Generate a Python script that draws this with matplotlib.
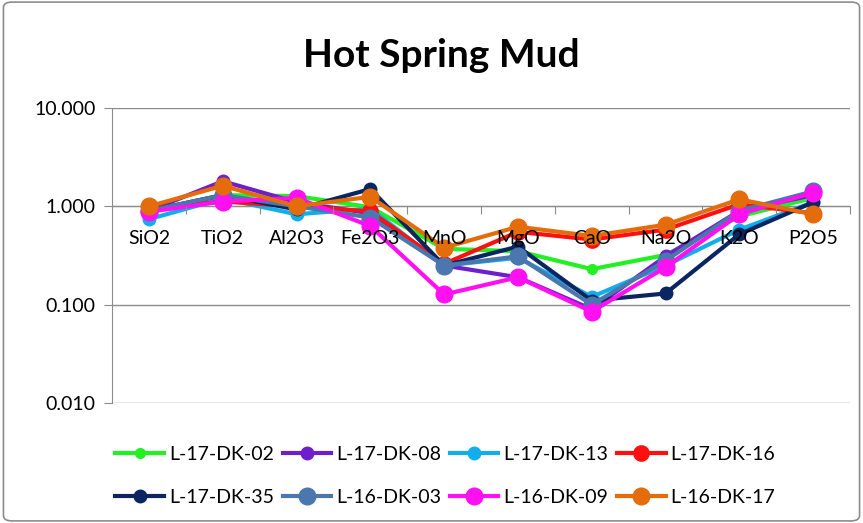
import matplotlib.pyplot as plt
from matplotlib.patches import FancyBboxPatch
from matplotlib.ticker import FixedLocator, NullLocator

plt.rcParams['font.family'] = ['Lato', 'DejaVu Sans']

oxides = ['SiO2', 'TiO2', 'Al2O3', 'Fe2O3', 'MnO', 'MgO', 'CaO', 'Na2O', 'K2O', 'P2O5']

samples = ['L-17-DK-02', 'L-17-DK-08', 'L-17-DK-13', 'L-17-DK-16',
           'L-17-DK-35', 'L-16-DK-03', 'L-16-DK-09', 'L-16-DK-17']

dk02 = [0.90, 1.30, 1.27, 0.98, 0.37, 0.35, 0.23, 0.32, 0.79, 1.22]
dk08 = [0.90, 1.80, 1.10, 0.85, 0.25, 0.19, 0.09, 0.31, 0.90, 1.30]
dk13 = [0.74, 1.20, 0.83, 0.95, 0.25, 0.30, 0.12, 0.25, 0.58, 1.10]
dk16 = [0.95, 1.12, 1.00, 0.89, 0.26, 0.55, 0.46, 0.58, 1.05, 0.85]
dk35 = [0.90, 1.30, 0.93, 1.50, 0.25, 0.39, 0.11, 0.13, 0.52, 1.10]
dk03 = [0.90, 1.30, 1.00, 0.77, 0.25, 0.31, 0.10, 0.28, 0.90, 1.42]
dk09 = [0.88, 1.12, 1.22, 0.63, 0.127, 0.19, 0.085, 0.24, 0.83, 1.38]
dk17 = [1.00, 1.62, 1.00, 1.25, 0.38, 0.62, 0.50, 0.65, 1.18, 0.83]

series = [dk02, dk08, dk13, dk16, dk35, dk03, dk09, dk17]
colors = ['#22F022', '#6E1FCB', '#12AEEA', '#FF1010', '#0A2560', '#4A78AE', '#FF10F0', '#E46C0A']
msizes = [7, 9, 9, 11, 9, 12, 12, 12]
yticks = [0.01, 0.1, 1, 10]

fig = plt.figure(figsize=(8.63, 5.23), dpi=100)
fig.patches.append(FancyBboxPatch((0.004, 0.004), 0.992, 0.992, boxstyle='round,pad=0,rounding_size=0.01',
                                  transform=fig.transFigure, fill=False, edgecolor='#8c8c8c', lw=1.2))
ax = fig.add_axes([0.1298, 0.2294, 0.8552, 0.5641])

x = list(range(len(oxides)))
handles = []
for name, vals, c, ms in zip(samples, series, colors, msizes):
    h, = ax.plot(x, vals, color=c, lw=3, marker='o', ms=ms, label=name, zorder=2)
    handles.append(h)

ax.set_yscale('log')
ax.set_ylim(0.01, 10)
ax.set_xlim(-0.5, len(oxides) - 0.5)
ax.yaxis.set_major_locator(FixedLocator(yticks))
ax.yaxis.set_minor_locator(NullLocator())
ax.set_yticklabels(['0.010', '0.100', '1.000', '10.000'])

# gridlines below the series, category labels above them
for t in yticks:
    ax.axhline(t, color='#8c8c8c', lw=1, zorder=0.5)
ax.xaxis.set_zorder(3)

ax.spines['top'].set_visible(False)
ax.spines['right'].set_visible(False)
ax.spines['left'].set_color('#8c8c8c')
ax.spines['bottom'].set_position(('data', 1))
ax.spines['bottom'].set_color('#8c8c8c')
for s in ax.spines.values():
    s.set_zorder(0.6)

ax.set_xticks([i + 0.5 for i in x])
ax.set_xticklabels([])
ax.set_xticks(x, minor=True)
ax.set_xticklabels(oxides, minor=True)
ax.tick_params(axis='x', which='major', direction='out', length=6, color='#8c8c8c')
ax.tick_params(axis='x', which='minor', length=0, labelsize=14, pad=17)
ax.tick_params(axis='y', length=6, color='#8c8c8c', labelsize=14, pad=6)

fig.text(0.511, 0.894, 'Hot Spring Mud', ha='center', va='center', fontsize=28, fontweight='bold')

# legend filled row by row, like the original
order = [0, 4, 1, 5, 2, 6, 3, 7]
fig.legend([handles[i] for i in order], [samples[i] for i in order],
           loc='center', bbox_to_anchor=(0.516, 0.09), ncol=4, frameon=False, fontsize=14,
           handlelength=2.5, handletextpad=0.25, columnspacing=0.45, labelspacing=1.3)

fig.savefig('out.png', dpi=100)
